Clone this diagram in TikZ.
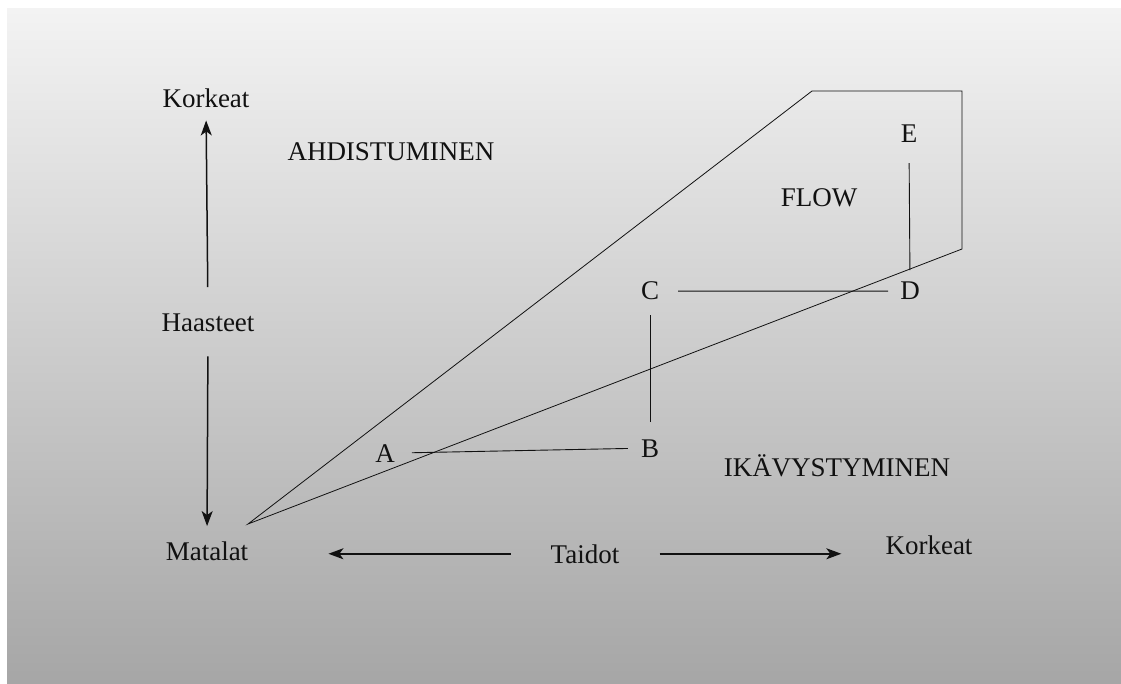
\documentclass[tikz,border=0pt]{standalone}
\usepackage{fontspec}
\setmainfont{Liberation Serif}
\usetikzlibrary{arrows.meta}
\definecolor{bgtop}{HTML}{F3F3F3}
\definecolor{bgbottom}{HTML}{A6A6A6}
\definecolor{ink}{HTML}{111111}
\begin{document}
\begin{tikzpicture}[x=1pt,y=-1pt,
  lbl/.style={anchor=base,inner sep=0pt,text=ink,font=\fontsize{27}{32}\selectfont},
  axis/.style={draw=ink,line width=1.5pt,-{Stealth[length=15pt,width=11pt,inset=4pt]}},
  conn/.style={draw=ink,line width=0.9pt},
  zone/.style={draw=ink,line width=0.8pt,line join=miter}]
  % page and gradient panel
  \useasboundingbox (0,0) rectangle (1121,684);
  \fill[white] (0,0) rectangle (1121,684);
  \shade[top color=bgtop,bottom color=bgbottom] (7,9) rectangle (1121,684);

  % axis labels
  \node[lbl] (high1) at (206,108) {Korkeat};
  \node[lbl] (chal)  at (208,331) {Haasteet};
  \node[lbl] (low)   at (207,560) {Matalat};
  \node[lbl] (skill) at (585,563) {Taidot};
  \node[lbl] (high2) at (929,554) {Korkeat};

  % region labels
  \node[lbl] (anx)  at (391,161) {AHDISTUMINEN};
  \node[lbl] (bore) at (837,476) {IKÄVYSTYMINEN};
  \node[lbl] (flow) at (819,207) {FLOW};

  % path points
  \node[lbl] (A) at (385,462) {A};
  \node[lbl] (B) at (650,457) {B};
  \node[lbl] (C) at (650,300) {C};
  \node[lbl] (D) at (910,300) {D};
  \node[lbl] (E) at (909,143) {E};

  % axes
  \draw[axis,shorten <=26pt,shorten >=12pt] (chal.north) -- (high1.south);
  \draw[axis,shorten <=25pt,shorten >=15pt] (chal.south) -- (low.north);
  \draw[axis,shorten <=40pt,shorten >=80pt] (skill.west) -- (skill.west -| low.east);
  \draw[axis,shorten <=40pt,shorten >=44pt] (skill.east) -- (skill.east -| high2.west);

  % flow channel
  \coordinate (origin) at (248,524);
  \draw[zone] (origin) -- (812,91) -- (962,91) -- (962,249) -- cycle;

  % path A-B-C-D-E
  \draw[conn,shorten <=17pt,shorten >=13pt] (A.east) -- (B.west);
  \draw[conn,shorten <=17pt,shorten >=15pt] (B.north) -- (C.south);
  \draw[conn,shorten <=19pt,shorten >=12pt] (C.east) -- (D.west);
  \draw[conn,shorten <=12pt,shorten >=20pt] (D.north) -- (E.south);
\end{tikzpicture}
\end{document}
